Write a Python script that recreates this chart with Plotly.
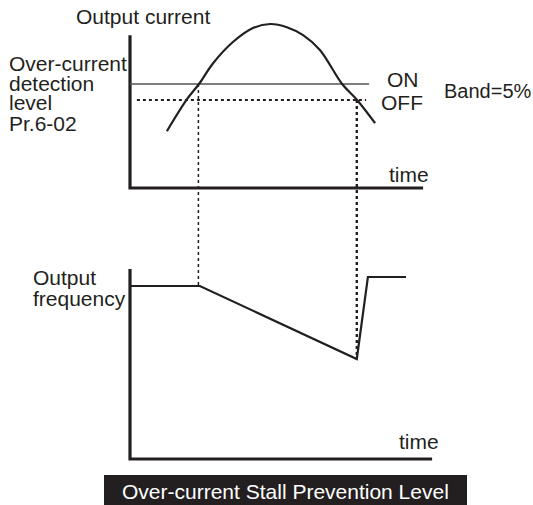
import plotly.graph_objects as go

# ---------------- data (diagram units) ----------------
# Output current during the overload, sampled along the curve
cur_time = [1.23, 1.90, 2.30, 2.77, 3.43, 4.10, 4.67, 5.23, 5.77, 6.33, 7.07, 7.57, 8.17]
cur_value = [7.1, 11.1, 13.0, 15.6, 18.25, 20.0, 20.5, 20.1, 19.1, 17.25, 13.0, 11.0, 8.1]

# Over-current detection level (ON) and release level (OFF, 5 % band)
level_on = 13.0
level_off = 11.0
level_on_span = [0.0, 7.97]
level_off_span = [0.23, 7.87]

# Output frequency: hold, decelerate while stalled, recover
frq_time = [0.0, 2.33, 7.56, 7.93, 9.2]
frq_value = [17.3, 17.3, 10.0, 18.2, 18.2]

# Moments where the current crosses the ON / OFF levels
t_stall_on = 2.28
t_stall_off = 7.56

# Axis extents of the two panels
cur_axis_top = 19.1
cur_axis_end = 9.77
frq_axis_top = 19.0
frq_axis_end = 10.07

# ---------------- geometry ----------------
W, H = 533, 505
X0_PX, PX_PER_T = 130, 30.0       # time origin and scale
CUR_Y0_PX, PX_PER_I = 188, 8.0    # current panel origin (from top) and scale
FRQ_Y0_PX, PX_PER_F = 459, 10.0   # frequency panel origin (from top) and scale

INK = "#231f20"
FONT = "Liberation Sans, Arial, Helvetica, sans-serif"
FS = 21


def freq_to_cur(f):
    """Express a frequency-panel value in current-panel units (same page height)."""
    py_ = FRQ_Y0_PX - f * PX_PER_F
    return (CUR_Y0_PX - py_) / PX_PER_I


def px(x):
    return x / W


def py(y):
    return 1 - y / H


fig = go.Figure()

line_black = dict(color=INK, width=2.2)
axis_black = dict(color=INK, width=3.2)

# current panel axes
fig.add_trace(go.Scatter(x=[0, 0, cur_axis_end], y=[cur_axis_top, 0, 0], mode="lines",
                         line=axis_black, yaxis="y", hoverinfo="skip"))
# frequency panel axes
fig.add_trace(go.Scatter(x=[0, 0, frq_axis_end], y=[frq_axis_top, 0, 0], mode="lines",
                         line=axis_black, yaxis="y2", hoverinfo="skip"))

# ON level (solid) and OFF level (dotted)
fig.add_trace(go.Scatter(x=level_on_span, y=[level_on, level_on], mode="lines",
                         line=dict(color="#555555", width=1.4), yaxis="y"))
fig.add_trace(go.Scatter(x=level_off_span, y=[level_off, level_off], mode="lines",
                         line=dict(color=INK, width=2, dash="dot"), yaxis="y"))

# vertical dotted guides linking the two panels
fig.add_trace(go.Scatter(x=[t_stall_on, t_stall_on],
                         y=[level_on, freq_to_cur(frq_value[1])], mode="lines",
                         line=dict(color=INK, width=1.5, dash="dot"), yaxis="y"))
fig.add_trace(go.Scatter(x=[t_stall_off, t_stall_off],
                         y=[level_off, freq_to_cur(frq_value[2])], mode="lines",
                         line=dict(color=INK, width=2.4, dash="dot"), yaxis="y"))

# output current curve
fig.add_trace(go.Scatter(x=cur_time, y=cur_value, mode="lines",
                         line=dict(color=INK, width=2.2, shape="spline", smoothing=1.0),
                         yaxis="y"))
# output frequency
fig.add_trace(go.Scatter(x=frq_time, y=frq_value, mode="lines",
                         line=line_black, yaxis="y2"))

ax_hidden = dict(visible=False, showgrid=False, zeroline=False, fixedrange=True)
fig.update_layout(
    width=W, height=H,
    margin=dict(l=0, r=0, t=0, b=0),
    paper_bgcolor="white", plot_bgcolor="white",
    showlegend=False,
    xaxis=dict(ax_hidden, domain=[0, 1],
               range=[-X0_PX / PX_PER_T, (W - X0_PX) / PX_PER_T]),
    yaxis=dict(ax_hidden, domain=[0, 1],
               range=[-(H - CUR_Y0_PX) / PX_PER_I, CUR_Y0_PX / PX_PER_I]),
    yaxis2=dict(ax_hidden, domain=[0, 1], overlaying="y",
                range=[-(H - FRQ_Y0_PX) / PX_PER_F, FRQ_Y0_PX / PX_PER_F]),
)

# title bar
fig.add_shape(type="rect", xref="paper", yref="paper",
              x0=px(104), x1=px(467), y0=py(475), y1=py(506),
              fillcolor=INK, line=dict(width=0), layer="below")


def label(text, x, y, xanchor="left", color=INK, size=FS):
    fig.add_annotation(text=text, x=px(x), y=py(y), xref="paper", yref="paper",
                       xanchor=xanchor, yanchor="middle", showarrow=False,
                       font=dict(family=FONT, size=size, color=color))


label("Output current", 143, 16, "center")
label("Over-current", 7, 63)
label("detection", 7, 83)
label("level", 7, 103)
label("Pr.6-02", 7, 123)
label("ON", 403, 79, "center")
label("OFF", 402, 103, "center")
label("Band=5%", 442, 91, size=20)
label("time", 409, 174, "center")
label("Output", 31, 277)
label("frequency", 31, 298)
label("time", 419, 441, "center")
label("Over-current Stall Prevention Level", 285, 491, "center", color="white")

fig.write_html("out.html")
